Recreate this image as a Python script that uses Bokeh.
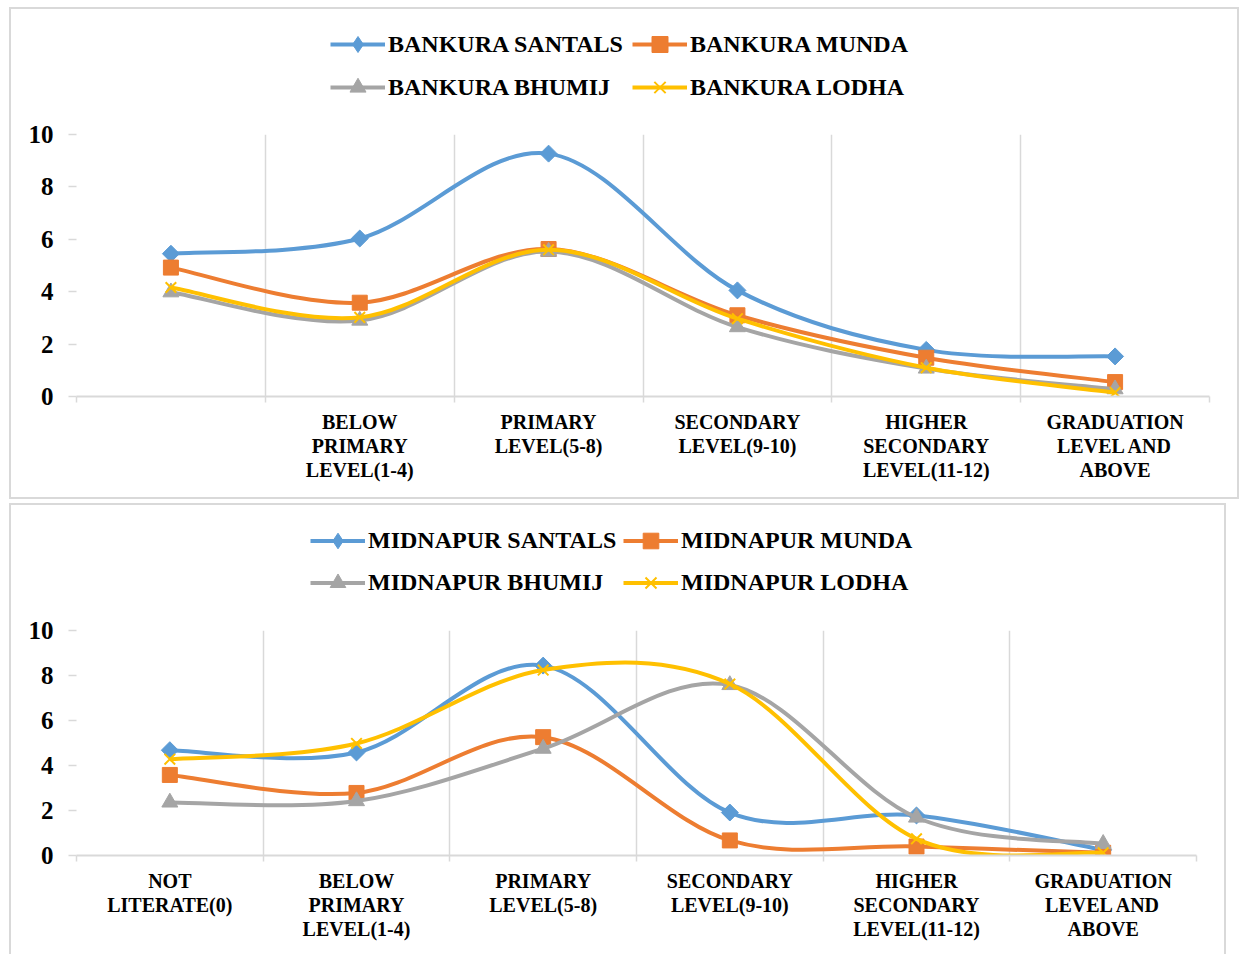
import math
from bokeh.plotting import figure
from bokeh.models import Range1d, FixedTicker, Legend, LegendItem
from bokeh.layouts import column
from bokeh.embed import file_html
from bokeh.resources import INLINE

# ---------------- data ----------------
categories = ["NOT\nLITERATE(0)", "BELOW\nPRIMARY\nLEVEL(1-4)", "PRIMARY\nLEVEL(5-8)",
              "SECONDARY\nLEVEL(9-10)", "HIGHER\nSECONDARY\nLEVEL(11-12)", "GRADUATION\nLEVEL AND\nABOVE"]
top_tick_labels = [""] + categories[1:]
y_ticks = [0, 2, 4, 6, 8, 10]

bankura_names = ["BANKURA SANTALS", "BANKURA MUNDA", "BANKURA BHUMIJ", "BANKURA LODHA"]
bankura_santals = [5.45, 6.03, 9.27, 4.05, 1.78, 1.53]
bankura_munda = [4.92, 3.58, 5.63, 3.10, 1.48, 0.55]
bankura_bhumij = [3.98, 2.90, 5.53, 2.65, 1.07, 0.28]
bankura_lodha = [4.16, 3.02, 5.60, 2.97, 1.10, 0.15]

midnapur_names = ["MIDNAPUR SANTALS", "MIDNAPUR MUNDA", "MIDNAPUR BHUMIJ", "MIDNAPUR LODHA"]
midnapur_santals = [4.68, 4.58, 8.44, 1.91, 1.78, 0.25]
midnapur_munda = [3.58, 2.78, 5.26, 0.67, 0.40, 0.12]
midnapur_bhumij = [2.36, 2.42, 4.75, 7.58, 1.69, 0.52]
midnapur_lodha = [4.28, 4.98, 8.24, 7.62, 0.74, 0.12]

colors = ["#5B9BD5", "#ED7D31", "#A5A5A5", "#FFC000"]
markers = ["square", "square", "triangle", "x"]
legend_markers = ["diamond", "square", "triangle", "x"]
marker_sizes = [12, 15, 16, 15]
marker_angles = [math.pi / 4, 0, 0, 0]

FONT = "Liberation Serif"
GRID = "#D9D9D9"
BORDER = "2px solid #D9D9D9"


def smooth_segments(xs, ys):
    n = len(xs)
    out = dict(x0=[], y0=[], x1=[], y1=[], cx0=[], cy0=[], cx1=[], cy1=[])
    for i in range(n - 1):
        xa, ya = (xs[i - 1], ys[i - 1]) if i > 0 else (xs[i], ys[i])
        xb, yb = (xs[i + 2], ys[i + 2]) if i + 2 < n else (xs[i + 1], ys[i + 1])
        out["x0"].append(xs[i]); out["y0"].append(ys[i])
        out["x1"].append(xs[i + 1]); out["y1"].append(ys[i + 1])
        out["cx0"].append(xs[i] + (xs[i + 1] - xa) / 6.0)
        out["cy0"].append(ys[i] + (ys[i + 1] - ya) / 6.0)
        out["cx1"].append(xs[i + 1] - (xb - xs[i]) / 6.0)
        out["cy1"].append(ys[i + 1] - (yb - ys[i]) / 6.0)
    return out


XS = [i + 0.5 for i in range(len(categories))]


def draw_series(p, k, ys, marker_set):
    seg = smooth_segments(XS, ys)
    r_line = p.bezier(source=seg, x0="x0", y0="y0", x1="x1", y1="y1",
                      cx0="cx0", cy0="cy0", cx1="cx1", cy1="cy1",
                      line_color=colors[k], line_width=4)
    if marker_set[k] == "x":
        r_pts = p.scatter(XS, ys, marker="x", size=marker_sizes[k],
                          line_color=colors[k], line_width=2)
    else:
        ang = marker_angles[k] if marker_set[k] == markers[k] else 0
        r_pts = p.scatter(XS, ys, marker=marker_set[k], size=marker_sizes[k], angle=ang,
                          fill_color=colors[k], line_color=colors[k])
    return r_line, r_pts


def make_legend_fig(names, series, width, height, legend_x, legend_y, legend_h, label_w,
                    margin, styles):
    # separate legend strip; its renderers hold the same series but lie outside its view
    L = figure(width=width, height=height, output_backend="svg", toolbar_location=None,
               x_range=Range1d(100, 101), y_range=Range1d(100, 101), min_border=0,
               x_axis_location=None, y_axis_location=None,
               margin=margin, styles=styles)
    L.grid.visible = False
    L.outline_line_color = None
    items = []
    for k, (name, ys) in enumerate(zip(names, series)):
        r_line, r_pts = draw_series(L, k, ys, legend_markers)
        items.append(LegendItem(label=name, renderers=[r_line, r_pts]))
    # legend fills column-first: order so that rows read SANTALS, MUNDA / BHUMIJ, LODHA
    ordered = [items[0], items[2], items[1], items[3]]
    legend = Legend(items=ordered, ncols=2, location=(legend_x, legend_y),
                    glyph_width=55, glyph_height=legend_h, label_height=legend_h,
                    label_width=label_w,
                    label_standoff=3, spacing=3, padding=0, margin=0,
                    border_line_color=None, background_fill_alpha=0,
                    label_text_font=FONT, label_text_font_style="bold",
                    label_text_font_size="24px", label_text_color="black")
    L.add_layout(legend, "center")
    return L


def make_chart(series, tick_labels, width, height, min_left, min_right, min_top, min_bottom,
               margin, styles):
    p = figure(width=width, height=height, output_backend="svg", toolbar_location=None,
               x_range=Range1d(0, len(categories)), y_range=Range1d(0, 10),
               min_border_left=min_left, min_border_right=min_right,
               min_border_top=min_top, min_border_bottom=min_bottom,
               margin=margin, styles=styles)
    p.outline_line_color = None

    xa = p.xaxis[0]
    xa.ticker = FixedTicker(ticks=XS, minor_ticks=list(range(len(categories) + 1)))
    xa.major_label_overrides = {x: lab for x, lab in zip(XS, tick_labels)}
    xa.major_tick_line_color = None
    xa.minor_tick_line_color = GRID
    xa.minor_tick_line_width = 1.5
    xa.minor_tick_in = 0
    xa.minor_tick_out = 6
    xa.axis_line_color = GRID
    xa.axis_line_width = 2
    xa.major_label_standoff = 8
    xa.major_label_text_font = FONT
    xa.major_label_text_font_style = "bold"
    xa.major_label_text_font_size = "20px"
    xa.major_label_text_line_height = 1.1
    xa.major_label_text_color = "black"

    ya = p.yaxis[0]
    ya.ticker = FixedTicker(ticks=y_ticks)
    ya.axis_line_color = None
    ya.major_tick_line_color = GRID
    ya.major_tick_line_width = 1.5
    ya.major_tick_in = 0
    ya.major_tick_out = 8
    ya.minor_tick_line_color = None
    ya.major_label_standoff = 15
    ya.major_label_text_font = FONT
    ya.major_label_text_font_style = "bold"
    ya.major_label_text_font_size = "25px"
    ya.major_label_text_color = "black"

    p.xgrid.ticker = FixedTicker(ticks=list(range(1, len(categories) + 1)))
    p.xgrid.grid_line_color = GRID
    p.xgrid.grid_line_width = 1.5
    p.ygrid.grid_line_color = None

    for k, ys in enumerate(series):
        draw_series(p, k, ys, markers)
    return p


bankura_series = [bankura_santals, bankura_munda, bankura_bhumij, bankura_lodha]
midnapur_series = [midnapur_santals, midnapur_munda, midnapur_bhumij, midnapur_lodha]

L1 = make_legend_fig(bankura_names, bankura_series, 1230, 107, 254, 9, 40, 241, (7, 0, 0, 9),
                     {"border-top": BORDER, "border-left": BORDER, "border-right": BORDER})
C1 = make_chart(bankura_series, top_tick_labels,
                1230, 385, 65, 31, 20, 103, (0, 0, 0, 9),
                {"border-bottom": BORDER, "border-left": BORDER, "border-right": BORDER})
L2 = make_legend_fig(midnapur_names, midnapur_series, 1217, 107, 234, 10, 39, 252, (4, 0, 0, 9),
                     {"border-top": BORDER, "border-left": BORDER, "border-right": BORDER})
C2 = make_chart(midnapur_series, categories,
                1217, 344, 60, 32, 20, 99, (0, 0, 0, 9),
                {"border-left": BORDER, "border-right": BORDER})

layout = column(L1, C1, L2, C2, spacing=0)
open("out.html", "w").write(file_html(layout, INLINE))
